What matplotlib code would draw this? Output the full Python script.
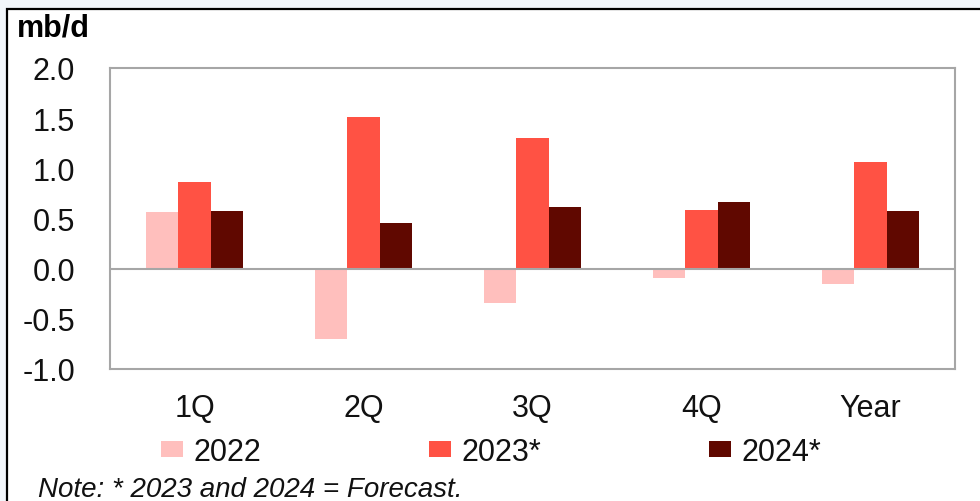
import matplotlib.pyplot as plt
import numpy as np
from matplotlib.patches import Rectangle

plt.rcParams['font.family'] = ['Liberation Sans', 'DejaVu Sans']

categories = ['1Q', '2Q', '3Q', '4Q', 'Year']
series_names = ['2022', '2023*', '2024*']
vals_2022 = [0.56, -0.70, -0.34, -0.09, -0.15]
vals_2023 = [0.86, 1.51, 1.30, 0.58, 1.06]
vals_2024 = [0.57, 0.46, 0.61, 0.66, 0.57]
colors = ['#ffbfbd', '#ff5244', '#600800']
yticks = [-1.0, -0.5, 0.0, 0.5, 1.0, 1.5, 2.0]

W, H = 980, 502
fig = plt.figure(figsize=(W / 100, H / 100), dpi=100)
fig.patch.set_facecolor('#f2f6fb')

# white panel with black border (runs off right/bottom edges)
fig.patches.append(Rectangle((7 / W, -0.1), 1.2, 1 - 10 / H + 0.1,
                             transform=fig.transFigure, facecolor='white',
                             edgecolor='black', linewidth=1.6, zorder=-5))

ax = fig.add_axes([110 / W, 1 - 370 / H, (955 - 110) / W, (370 - 69) / H])
ax.set_zorder(2)
ax.set_facecolor('white')

x = np.arange(len(categories))
bw = 0.1925
handles = []
for i, vals in enumerate([vals_2022, vals_2023, vals_2024]):
    b = ax.bar(x + (i - 1) * bw, vals, width=bw, color=colors[i], zorder=2)
    handles.append(b)

ax.axhline(0, color='#a6a6a6', linewidth=1.5, zorder=3)
ax.set_xlim(-0.5, len(categories) - 0.5)
ax.set_ylim(-1.0, 2.0)
ax.set_yticks(yticks)
ax.set_yticklabels([f'{v:.1f}' for v in yticks])
ax.set_xticks(x)
ax.set_xticklabels(categories)
ax.tick_params(axis='y', length=0, pad=25, labelsize=22, labelcolor='#111111')
ax.tick_params(axis='x', length=0, pad=17, labelsize=22, labelcolor='#111111')
for s in ax.spines.values():
    s.set_color('#a6a6a6')
    s.set_linewidth(1.5)

fig.text(17 / W, 1 - 29 / H, 'mb/d', fontsize=22, fontweight='bold',
         va='center', ha='left')

# legend entries placed one by one
leg_x = [161, 429, 709]
for i, h in enumerate(handles):
    lg = fig.legend([h], [series_names[i]], loc='center left',
                    bbox_to_anchor=(leg_x[i] / W, 1 - 453 / H),
                    frameon=False, fontsize=22, borderpad=0, borderaxespad=0,
                    handlelength=0.72, handleheight=0.43, handletextpad=0.33)
    for t in lg.get_texts():
        t.set_color('#111111')

fig.text(38 / W, 1 - 490 / H, 'Note: * 2023 and 2024 = Forecast.',
         fontsize=20, fontstyle='italic', va='center', ha='left',
         color='#111111')

fig.savefig('out.png', dpi=100, facecolor=fig.get_facecolor())
